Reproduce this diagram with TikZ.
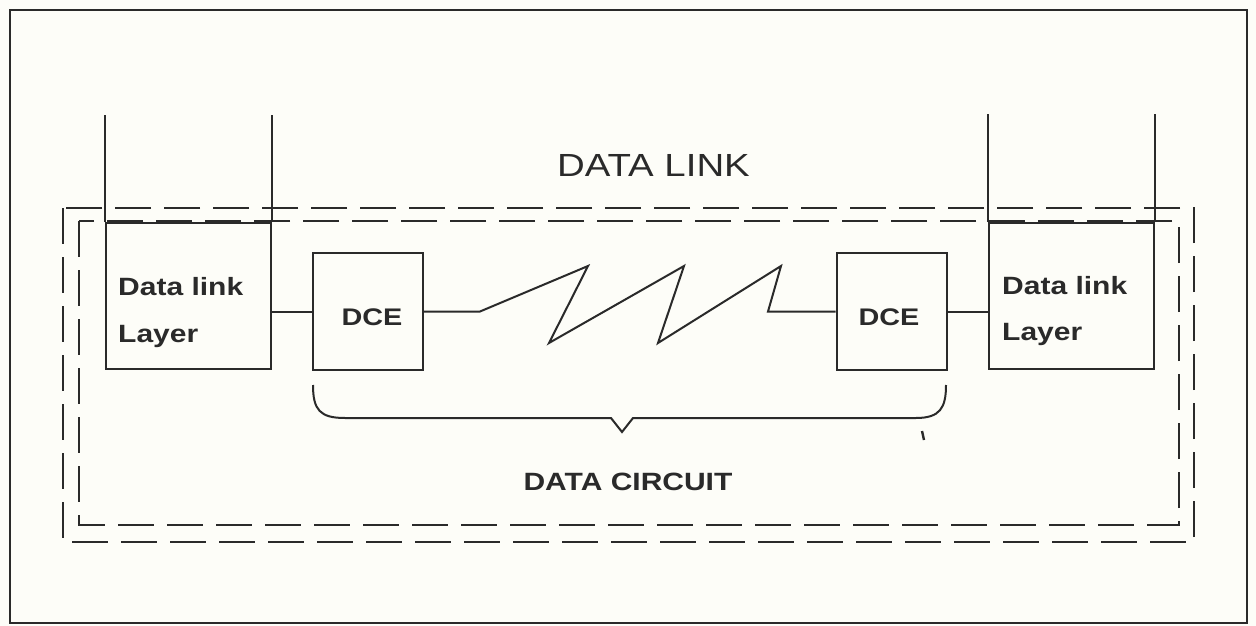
\documentclass[tikz,border=0pt]{standalone}
\usepackage{fontspec}
\newfontfamily\dfont[FakeStretch=1.2]{Liberation Sans}
\definecolor{ink}{HTML}{2A2A2A}
\definecolor{paper}{HTML}{FDFDF8}
\begin{document}
\begin{tikzpicture}[x=1pt,y=-1pt,
  boxst/.style={draw=ink, line width=2pt, inner sep=0pt, rectangle},
  wire/.style={draw=ink, line width=2pt},
  dashst/.style={draw=ink, line width=2.4pt, dash pattern=on 36pt off 13pt},
  lbl/.style={text=ink, inner sep=0pt, font=\dfont\bfseries\fontsize{25}{30}\selectfont},
  dcelbl/.style={text=ink, inner sep=0pt, font=\dfont\bfseries\fontsize{24}{29}\selectfont}]
\fill[paper] (0,0) rectangle (1256,626);
\useasboundingbox (0,0) rectangle (1256,626);
% frame
\draw[ink, line width=1.8pt] (10,10) rectangle (1247,623);
% dashed enclosures
\draw[dashst] (63,208) rectangle (1194,542);
\draw[dashst] (79,221) rectangle (1179,525);
% boxes
\node[boxst, minimum width=165, minimum height=146] (dlL) at (188.5,296) {};
\node[boxst, minimum width=165, minimum height=146] (dlR) at (1071.5,296) {};
\node[boxst, minimum width=110, minimum height=117] (dceL) at (368,311.5) {};
\node[boxst, minimum width=110, minimum height=117] (dceR) at (891.5,311.5) {};
% vertical lines above layer boxes
\draw[wire] (dlL.north west) -- ++(0,-107);
\draw[wire] (dlL.north east) -- ++(0,-107);
\draw[wire] (dlR.north west) -- ++(0,-108);
\draw[wire] (dlR.north east) -- ++(0,-108);
% labels
\node[lbl, anchor=base west] (tL1) at (118,295) {Data link};
\node[lbl, anchor=base west] (tL2) at (118,342) {Layer};
\node[lbl, anchor=base west] (tR1) at (1002,294) {Data link};
\node[lbl, anchor=base west] (tR2) at (1002,340) {Layer};
\node[dcelbl, anchor=base] (tD1) at (372,325) {DCE};
\node[dcelbl, anchor=base] (tD2) at (889,325) {DCE};
\node[text=ink, inner sep=0pt, anchor=base, font=\dfont\fontsize{32}{38}\selectfont] (title) at (653.5,176) {DATA LINK};
\node[lbl, anchor=base] (circ) at (628,490) {DATA CIRCUIT};
% connectors
\draw[wire] (dceL.west) -- (dceL.west -| dlL.east);
\draw[wire] (dceR.east) -- (dceR.east -| dlR.west);
\draw[wire, line join=miter] (dceL.east) -- (480,311.5) -- (588,266) -- (549,343)
  -- (684,266) -- (658,343) -- (781,266) -- (768,311.5) -- (dceR.west);
% brace
\draw[wire] (313,385) .. controls (313,410) and (320,418) .. (345,418)
  -- (611,418) -- (622,432) -- (633,418) -- (916,418)
  .. controls (940,418) and (946,408) .. (946,385);
\draw[ink, line width=2.4pt] (922,431) -- (924,440);
\end{tikzpicture}
\end{document}
